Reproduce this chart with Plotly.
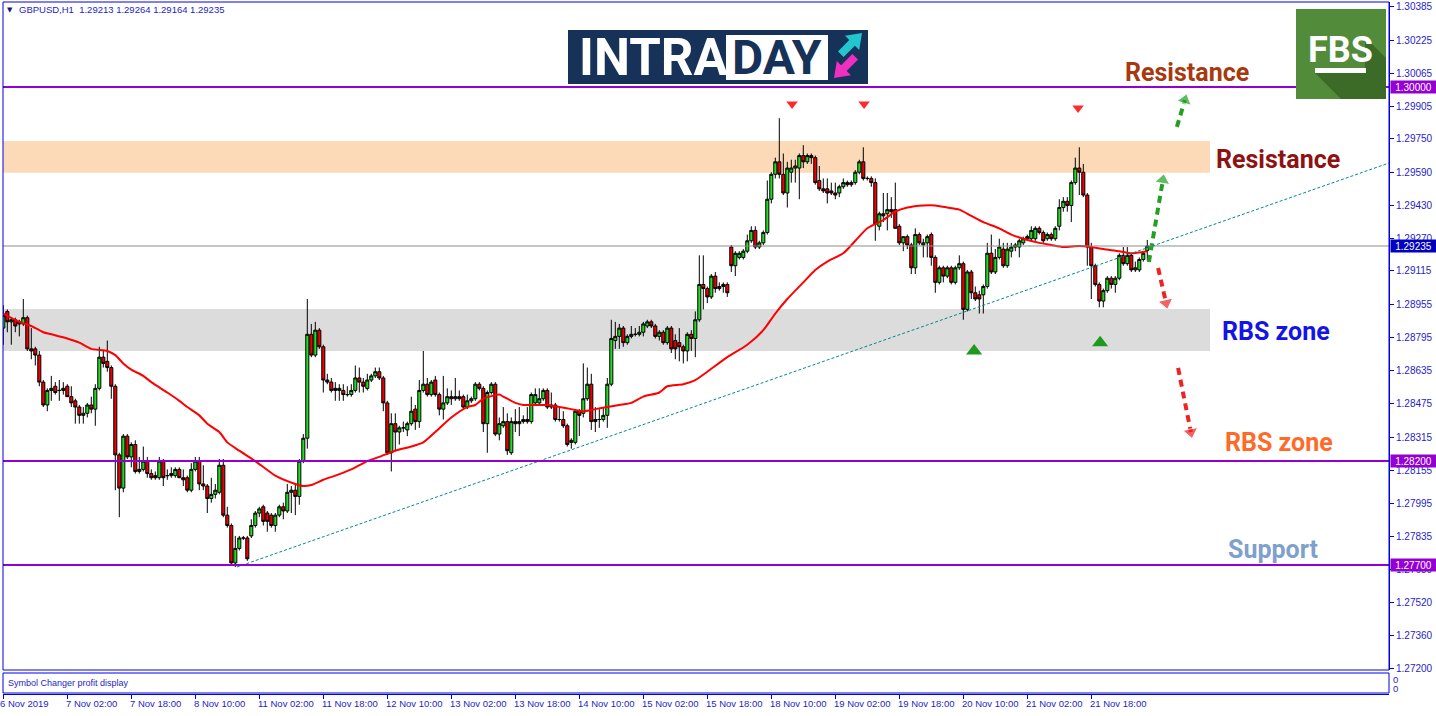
import plotly.graph_objects as go

# ------------------------------------------------------------------ data
opens = [
 1.2884,1.2892,1.2887,1.2888,1.2887,1.2886,1.2889,1.2874,1.2874,1.2871,
 1.2858,1.2847,1.2854,1.2856,1.2854,1.2854,1.2856,1.2851,1.2849,1.2846,
 1.2842,1.2843,1.2847,1.2845,1.2855,1.2870,1.2868,1.2865,1.2856,1.2823,
 1.2807,1.2832,1.2822,1.2828,1.2815,1.2816,1.2820,1.2814,1.2813,1.2812,
 1.2820,1.2813,1.2813,1.2813,1.2816,1.2812,1.2812,1.2806,1.2816,1.2820,
 1.2809,1.2808,1.2802,1.2804,1.2805,1.2818,1.2794,1.2789,1.2771,1.2778,
 1.2783,1.2783,1.2784,1.2789,1.2795,1.2798,1.2795,1.2794,1.2789,1.2794,
 1.2798,1.2796,1.2805,1.2806,1.2803,1.2820,1.2831,1.2881,1.2871,1.2883,
 1.2875,1.2859,1.2858,1.2855,1.2854,1.2854,1.2852,1.2852,1.2854,1.2860,
 1.2858,1.2855,1.2859,1.2861,1.2863,1.2860,1.2848,1.2824,1.2838,1.2834,
 1.2836,1.2835,1.2838,1.2845,1.2839,1.2854,1.2857,1.2852,1.2859,1.2852,
 1.2845,1.2848,1.2851,1.2850,1.2851,1.2851,1.2846,1.2849,1.2850,1.2857,
 1.2855,1.2838,1.2853,1.2857,1.2833,1.2837,1.2839,1.2824,1.2839,1.2838,
 1.2839,1.2840,1.2839,1.2848,1.2848,1.2850,1.2854,1.2847,1.2847,1.2840,
 1.2840,1.2837,1.2829,1.2829,1.2844,1.2843,1.2850,1.2857,1.2840,1.2840,
 1.2840,1.2842,1.2857,1.2878,1.2880,1.2884,1.2877,1.2880,1.2881,1.2881,
 1.2882,1.2885,1.2887,1.2885,1.2880,1.2882,1.2877,1.2884,1.2878,1.2877,
 1.2875,1.2873,1.2881,1.2879,1.2888,1.2905,1.2903,1.2899,1.2909,1.2904,
 1.2904,1.2905,1.2923,1.2914,1.2918,1.2918,1.2921,1.2926,1.2931,1.2923,
 1.2925,1.2930,1.2946,1.2958,1.2964,1.2958,1.2949,1.2959,1.2961,1.2961,
 1.2967,1.2964,1.2967,1.2966,1.2955,1.2951,1.2951,1.2950,1.2949,1.2949,
 1.2952,1.2954,1.2953,1.2954,1.2959,1.2964,1.2956,1.2956,1.2954,1.2933,
 1.2939,1.2939,1.2941,1.2941,1.2933,1.2925,1.2928,1.2924,1.2913,1.2929,
 1.2924,1.2925,1.2929,1.2918,1.2906,1.2913,1.2909,1.2913,1.2906,1.2913,
 1.2915,1.2893,1.2911,1.2901,1.2900,1.2900,1.2904,1.2920,1.2911,1.2918,
 1.2922,1.2914,1.2921,1.2923,1.2923,1.2925,1.2927,1.2927,1.2927,1.2932,
 1.2930,1.2927,1.2929,1.2927,1.2933,1.2942,1.2945,1.2943,1.2954,1.2961,
 1.2959,1.2948,1.2923,1.2914,1.2905,1.2897,1.2902,1.2908,1.2905,1.2908,
 1.2919,1.2915,1.2919,1.2912,1.2912,1.2917,1.29213]
highs = [
 1.2895,1.2893,1.2889,1.2889,1.2888,1.2898,1.2890,1.2884,1.2875,1.2873,
 1.2859,1.2855,1.2861,1.2858,1.2859,1.2858,1.2857,1.2856,1.2850,1.2847,
 1.2846,1.2848,1.2851,1.2857,1.2875,1.2873,1.2878,1.2866,1.2857,1.2824,
 1.2833,1.2833,1.2829,1.2830,1.2822,1.2827,1.2822,1.2816,1.2815,1.2822,
 1.2821,1.2816,1.2817,1.2817,1.2817,1.2816,1.2813,1.2819,1.2822,1.2822,
 1.2818,1.2809,1.2812,1.2809,1.2821,1.2821,1.2798,1.2790,1.2784,1.2784,
 1.2784,1.2784,1.2792,1.2796,1.2798,1.2799,1.2796,1.2795,1.2795,1.2799,
 1.2800,1.2809,1.2808,1.2809,1.2821,1.2833,1.2898,1.2886,1.2887,1.2884,
 1.2876,1.2862,1.2860,1.2858,1.2857,1.2857,1.2856,1.2857,1.2866,1.2865,
 1.2860,1.2862,1.2862,1.2865,1.2865,1.2861,1.2849,1.2843,1.2843,1.2837,
 1.2839,1.2839,1.2851,1.2847,1.2859,1.2873,1.2860,1.2859,1.2861,1.2853,
 1.2861,1.2855,1.2854,1.2860,1.2854,1.2852,1.2852,1.2851,1.2858,1.2858,
 1.2856,1.2854,1.2858,1.2858,1.2841,1.2846,1.2843,1.2841,1.2845,1.2846,
 1.2842,1.2846,1.2853,1.2855,1.2855,1.2855,1.2855,1.2853,1.2848,1.2846,
 1.2844,1.2838,1.2831,1.2845,1.2845,1.2867,1.2865,1.2862,1.2846,1.2845,
 1.2846,1.2860,1.2888,1.2887,1.2886,1.2885,1.2881,1.2885,1.2884,1.2885,
 1.2887,1.2888,1.2888,1.2886,1.2883,1.2883,1.2885,1.2885,1.2881,1.2884,
 1.2876,1.2882,1.2883,1.2892,1.2919,1.2919,1.2904,1.2910,1.2911,1.2906,
 1.2906,1.2906,1.2924,1.2921,1.2921,1.2922,1.2929,1.2933,1.2933,1.2926,
 1.2931,1.2955,1.2959,1.2966,1.2985,1.2968,1.2964,1.2965,1.2965,1.2968,
 1.2972,1.2968,1.2968,1.2967,1.2962,1.2956,1.2956,1.2954,1.2954,1.2953,
 1.2956,1.2955,1.2955,1.2960,1.2965,1.2971,1.2957,1.2957,1.2956,1.2940,
 1.2949,1.2949,1.2947,1.2954,1.2934,1.2928,1.2929,1.2925,1.2932,1.2930,
 1.2927,1.2929,1.2930,1.2919,1.2914,1.2914,1.2914,1.2914,1.2914,1.2919,
 1.2916,1.2912,1.2912,1.2904,1.2902,1.2905,1.2925,1.2929,1.2922,1.2927,
 1.2925,1.2925,1.2925,1.2925,1.2927,1.2928,1.2929,1.2933,1.2933,1.2933,
 1.2931,1.2930,1.2930,1.2933,1.2946,1.2947,1.2947,1.2955,1.2966,1.2971,
 1.2963,1.2949,1.2925,1.2915,1.2906,1.2903,1.2909,1.2909,1.2909,1.2920,
 1.2923,1.2923,1.2920,1.2916,1.2918,1.2921,1.29264]
lows = [
 1.2876,1.2882,1.2876,1.2882,1.2880,1.2885,1.2873,1.2869,1.2866,1.2856,
 1.2846,1.2844,1.2849,1.2852,1.2849,1.2852,1.2851,1.2846,1.2838,1.2838,
 1.2838,1.2841,1.2843,1.2837,1.2854,1.2865,1.2863,1.2850,1.2806,1.2793,
 1.2805,1.2821,1.2817,1.2814,1.2814,1.2815,1.2812,1.2811,1.2811,1.2811,
 1.2808,1.2811,1.2812,1.2812,1.2812,1.2808,1.2805,1.2805,1.2815,1.2806,
 1.2806,1.2795,1.2800,1.2802,1.2804,1.2793,1.2788,1.2770,1.2769,1.2777,
 1.2782,1.2772,1.2783,1.2788,1.2793,1.2789,1.2786,1.2788,1.2786,1.2793,
 1.2792,1.2795,1.2795,1.2794,1.2799,1.2819,1.2826,1.2870,1.2870,1.2874,
 1.2853,1.2857,1.2853,1.2849,1.2849,1.2849,1.2851,1.2851,1.2853,1.2853,
 1.2853,1.2854,1.2858,1.2860,1.2859,1.2844,1.2823,1.2815,1.2825,1.2828,
 1.2834,1.2832,1.2837,1.2835,1.2836,1.2853,1.2851,1.2851,1.2851,1.2842,
 1.2840,1.2847,1.2847,1.2849,1.2849,1.2845,1.2845,1.2848,1.2849,1.2854,
 1.2834,1.2824,1.2852,1.2832,1.2830,1.2836,1.2823,1.2823,1.2834,1.2832,
 1.2838,1.2838,1.2838,1.2847,1.2847,1.2849,1.2845,1.2845,1.2839,1.2839,
 1.2836,1.2827,1.2826,1.2828,1.2832,1.2841,1.2849,1.2835,1.2834,1.2836,
 1.2839,1.2836,1.2856,1.2874,1.2874,1.2875,1.2876,1.2879,1.2880,1.2880,
 1.2880,1.2884,1.2884,1.2879,1.2878,1.2876,1.2876,1.2872,1.2869,1.2868,
 1.2867,1.2868,1.2873,1.2870,1.2887,1.2893,1.2896,1.2898,1.2901,1.2902,
 1.2901,1.2899,1.2911,1.2909,1.2917,1.2917,1.2920,1.2925,1.2922,1.2922,
 1.2924,1.2929,1.2944,1.2956,1.2956,1.2948,1.2942,1.2954,1.2954,1.2946,
 1.2961,1.2963,1.2963,1.2953,1.2950,1.2949,1.2944,1.2948,1.2946,1.2947,
 1.2951,1.2952,1.2952,1.2953,1.2958,1.2955,1.2955,1.2952,1.2926,1.2931,
 1.2935,1.2931,1.2937,1.2932,1.2924,1.2921,1.2922,1.2910,1.2910,1.2924,
 1.2918,1.2918,1.2914,1.2901,1.2905,1.2906,1.2908,1.2905,1.2905,1.2912,
 1.2888,1.2892,1.2898,1.2897,1.2891,1.2891,1.2903,1.2910,1.2910,1.2917,
 1.2913,1.2913,1.2918,1.2921,1.2918,1.2924,1.2926,1.2926,1.2926,1.2929,
 1.2925,1.2926,1.2926,1.2926,1.2931,1.2940,1.2940,1.2935,1.2953,1.2948,
 1.2947,1.2914,1.2898,1.2904,1.2894,1.2894,1.2901,1.2903,1.2901,1.2907,
 1.2914,1.2914,1.2911,1.2911,1.2911,1.2916,1.29164]
closes = [
 1.2890,1.2887,1.2888,1.2885,1.2886,1.2889,1.2874,1.2873,1.2871,1.2858,
 1.2847,1.2854,1.2855,1.2853,1.2854,1.2855,1.2851,1.2848,1.2846,1.2842,
 1.2843,1.2847,1.2845,1.2855,1.2870,1.2867,1.2865,1.2856,1.2823,1.2807,
 1.2832,1.2822,1.2828,1.2815,1.2816,1.2820,1.2814,1.2812,1.2812,1.2820,
 1.2812,1.2813,1.2814,1.2816,1.2812,1.2811,1.2806,1.2816,1.2820,1.2809,
 1.2808,1.2802,1.2804,1.2806,1.2818,1.2794,1.2789,1.2771,1.2778,1.2783,
 1.2783,1.2773,1.2789,1.2795,1.2797,1.2791,1.2791,1.2789,1.2794,1.2798,
 1.2796,1.2805,1.2806,1.2803,1.2820,1.2831,1.2881,1.2871,1.2883,1.2875,
 1.2859,1.2858,1.2854,1.2854,1.2855,1.2852,1.2852,1.2854,1.2860,1.2858,
 1.2856,1.2859,1.2861,1.2863,1.2860,1.2848,1.2824,1.2838,1.2834,1.2836,
 1.2836,1.2838,1.2844,1.2839,1.2854,1.2857,1.2852,1.2858,1.2852,1.2845,
 1.2848,1.2851,1.2850,1.2851,1.2850,1.2846,1.2849,1.2850,1.2857,1.2855,
 1.2838,1.2853,1.2857,1.2833,1.2838,1.2839,1.2825,1.2839,1.2838,1.2839,
 1.2840,1.2839,1.2852,1.2852,1.2850,1.2854,1.2846,1.2846,1.2840,1.2840,
 1.2837,1.2828,1.2830,1.2844,1.2842,1.2850,1.2857,1.2839,1.2839,1.2840,
 1.2842,1.2857,1.2879,1.2880,1.2884,1.2877,1.2880,1.2881,1.2881,1.2882,
 1.2886,1.2887,1.2885,1.2880,1.2882,1.2877,1.2884,1.2874,1.2874,1.2875,
 1.2873,1.2881,1.2879,1.2888,1.2905,1.2903,1.2899,1.2909,1.2903,1.2903,
 1.2905,1.2901,1.2914,1.2920,1.2920,1.2921,1.2926,1.2931,1.2923,1.2925,
 1.2930,1.2946,1.2958,1.2964,1.2958,1.2949,1.2961,1.2961,1.2962,1.2967,
 1.2964,1.2967,1.2966,1.2954,1.2951,1.2950,1.2949,1.2949,1.2948,1.2952,
 1.2954,1.2953,1.2954,1.2959,1.2964,1.2956,1.2956,1.2954,1.2934,1.2939,
 1.2938,1.2941,1.2940,1.2932,1.2925,1.2928,1.2924,1.2913,1.2929,1.2925,
 1.2925,1.2928,1.2918,1.2906,1.2913,1.2909,1.2913,1.2906,1.2913,1.2915,
 1.2893,1.2911,1.2901,1.2898,1.2898,1.2904,1.2920,1.2911,1.2918,1.2923,
 1.2914,1.2922,1.2923,1.2924,1.2926,1.2927,1.2928,1.2931,1.2932,1.2930,
 1.2926,1.2929,1.2927,1.2932,1.2942,1.2945,1.2943,1.2954,1.2961,1.2959,
 1.2948,1.2923,1.2914,1.2905,1.2897,1.2902,1.2908,1.2905,1.2908,1.2919,
 1.2915,1.2919,1.2912,1.2913,1.2917,1.2920,1.29235]
bars = list(range(len(closes)))

# moving average (bar number, value)
ma_bars = [0,4,7,10,12,16,19,22,26,28,30,32,35,37,41,44,46,49,51,54,56,59,63,68,73,75,77,80,83,87,
           91,94,98,102,105,108,112,116,118,120,124,125,128,130,136,139,142,145,148,151,154,157,160,
           164,166,170,173,176,181,186,190,193,196,200,203,206,210,213,216,220,223,226,230,233,236,
           239,242,245,249,252,255,259,262,265,269,272,275,279,282,286]
ma_values = [1.2891,1.2887,1.2885,1.2882,1.2881,1.2879,1.2877,1.2874,1.2873,1.2871,1.2867,1.2864,
             1.2861,1.2858,1.2853,1.2849,1.2846,1.2842,1.2838,1.2834,1.2829,1.2825,1.2820,1.2813,
             1.2809,1.2808,1.28085,1.2811,1.2813,1.2816,1.2820,1.2822,1.2825,1.2827,1.2829,1.2834,
             1.2841,1.2846,1.2847,1.2850,1.2852,1.2851,1.2848,1.2847,1.2847,1.2846,1.2845,1.2844,
             1.2845,1.2846,1.2847,1.2848,1.2851,1.2853,1.2856,1.2857,1.2859,1.2863,1.2870,1.2876,
             1.2883,1.2891,1.2898,1.2906,1.2912,1.2916,1.2920,1.2926,1.2932,1.2936,1.2940,1.2942,
             1.2943,1.2943,1.2942,1.2941,1.2938,1.2935,1.2932,1.2929,1.2927,1.2925,1.2924,1.2923,
             1.29235,1.2923,1.2922,1.2921,1.2920,1.2921]

tick_bars = [16,32,48,64,80,96,112,128,144,160,176,192,208,224,240,256,272]
tick_labels = ["7 Nov 02:00","7 Nov 18:00","8 Nov 10:00","11 Nov 02:00","11 Nov 18:00",
               "12 Nov 10:00","13 Nov 02:00","13 Nov 18:00","14 Nov 10:00","15 Nov 02:00",
               "15 Nov 18:00","18 Nov 10:00","19 Nov 02:00","19 Nov 18:00","20 Nov 10:00",
               "21 Nov 02:00","21 Nov 18:00"]
first_label = "6 Nov 2019"
price_ticks = [1.30385,1.30225,1.30065,1.29905,1.29750,1.29590,1.29430,1.29270,1.29115,1.28955,
               1.28795,1.28635,1.28475,1.28315,1.28155,1.27995,1.27835,1.27680,1.27520,1.27360,1.27200]
level_lines = [1.30000, 1.28200, 1.27700]
bid_price = 1.29235
resistance_zone = [1.29587, 1.29740]
rbs_zone = [1.28730, 1.28932]
trend_bars = [58.4, 346.4]
trend_prices = [1.27690, 1.29634]
sell_bars, sell_prices = [197.2, 215.2, 268.7], [1.29918, 1.29918, 1.29899]
buy_bars, buy_prices = [242.7, 274.2], [1.28730, 1.28769]
proj_up = [([286.4, 289.9], [1.29158, 1.29552]), ([293.4, 295.4], [1.29808, 1.29937])]
proj_down = [([288.7, 290.7], [1.29129, 1.28961]), ([293.7, 296.9], [1.28648, 1.28339])]
header = "GBPUSD,H1  1.29213 1.29264 1.29164 1.29235"

# ------------------------------------------------------------------ geometry helpers
W, H = 1436, 716
PL, PR, PT, PB = 3, 1389, 2, 694
def px(x):
    return (x - PL) / (PR - PL)
def py(y):
    return (PB - y) / (PB - PT)

BLUE = "#0000E6"
TXT = "#1E1EC8"
SMALL = dict(family="Liberation Sans, Arial, sans-serif", size=9.5, color=TXT)
AXF = dict(family="Liberation Sans, Arial, sans-serif", size=10, color=TXT)

fig = go.Figure()

fig.add_trace(go.Candlestick(
    x=bars, open=opens, high=highs, low=lows, close=closes,
    increasing=dict(fillcolor="#22DD22", line=dict(color="black", width=1)),
    decreasing=dict(fillcolor="#EE0000", line=dict(color="black", width=1)),
    whiskerwidth=0, hoverinfo="skip", showlegend=False))

fig.add_trace(go.Scatter(x=ma_bars, y=ma_values, mode="lines",
                         line=dict(color="#FF0000", width=2, shape="spline", smoothing=0.6),
                         hoverinfo="skip", showlegend=False))

fig.add_trace(go.Scatter(x=sell_bars, y=sell_prices, mode="markers",
                         marker=dict(symbol="triangle-down", size=10, color="#FF2A2A"),
                         hoverinfo="skip", showlegend=False))
fig.add_trace(go.Scatter(x=buy_bars, y=buy_prices, mode="markers",
                         marker=dict(symbol="triangle-up", size=14, color="#1E9A1E"),
                         hoverinfo="skip", showlegend=False))
for xs, ys in proj_up:
    fig.add_trace(go.Scatter(x=xs, y=ys, mode="lines+markers",
                             line=dict(color="#22A022", width=4, dash="7px,5px"),
                             marker=dict(symbol=["circle", "triangle-up"], size=[0, 13], color="#22A022",
                                         angleref="previous"),
                             hoverinfo="skip", showlegend=False))
for xs, ys in proj_down:
    fig.add_trace(go.Scatter(x=xs, y=ys, mode="lines+markers",
                             line=dict(color="#EE2222", width=4, dash="7px,5px"),
                             marker=dict(symbol=["circle", "triangle-up"], size=[0, 13], color="#EE2222",
                                         angleref="previous"),
                             hoverinfo="skip", showlegend=False))

shapes = []
# zones (behind candles)
shapes.append(dict(type="rect", xref="paper", yref="y", x0=0, x1=px(1210),
                   y0=resistance_zone[0], y1=resistance_zone[1],
                   fillcolor="#FCDAB8", line=dict(width=0), layer="below"))
shapes.append(dict(type="rect", xref="paper", yref="y", x0=0, x1=px(1210),
                   y0=rbs_zone[0], y1=rbs_zone[1],
                   fillcolor="#DCDCDC", line=dict(width=0), layer="below"))
# bid line
shapes.append(dict(type="line", xref="paper", yref="y", x0=0, x1=1, y0=bid_price, y1=bid_price,
                   line=dict(color="#8C8C8C", width=1), layer="above"))
# trend line
shapes.append(dict(type="line", xref="x", yref="y", x0=trend_bars[0], x1=trend_bars[1],
                   y0=trend_prices[0], y1=trend_prices[1],
                   line=dict(color="#008B8B", width=1, dash="3px,2px"), layer="above"))
# horizontal levels
for lv in level_lines:
    shapes.append(dict(type="line", xref="paper", yref="y", x0=0, x1=1, y0=lv, y1=lv,
                       line=dict(color="#9400D3", width=2), layer="above"))
# frames
shapes.append(dict(type="rect", xref="paper", yref="paper", x0=0, x1=1, y0=py(670), y1=py(2),
                   line=dict(color=BLUE, width=1), layer="above"))
shapes.append(dict(type="rect", xref="paper", yref="paper", x0=0, x1=1, y0=py(693), y1=py(673),
                   line=dict(color=BLUE, width=1), layer="above"))

# INTRADAY logo
shapes.append(dict(type="rect", xref="paper", yref="paper", x0=px(568), x1=px(868), y0=py(84), y1=py(30),
                   fillcolor="#173259", line=dict(width=0), layer="above"))
shapes.append(dict(type="rect", xref="paper", yref="paper", x0=px(726), x1=px(828), y0=py(80), y1=py(35),
                   fillcolor="white", line=dict(width=0), layer="above"))
def poly(points):
    return "M " + " L ".join(f"{px(a):.5f},{py(b):.5f}" for a, b in points) + " Z"
shapes.append(dict(type="path", xref="paper", yref="paper", layer="above",
                   path=poly([(843.6, 57.0), (854.9, 45.7), (859.2, 50.0), (862, 33), (845, 35.8),
                              (849.3, 40.1), (838.0, 51.4)]),
                   fillcolor="#22C6CF", line=dict(width=0)))
shapes.append(dict(type="path", xref="paper", yref="paper", layer="above",
                   path=poly([(858.0, 59.6), (846.7, 70.9), (851.0, 75.2), (834, 78), (836.8, 61.0),
                              (841.1, 65.3), (852.4, 54.0)]),
                   fillcolor="#EE2FC0", line=dict(width=0)))
# FBS logo
shapes.append(dict(type="rect", xref="paper", yref="paper", x0=px(1296), x1=px(1386), y0=py(99), y1=py(9),
                   fillcolor="#528C3A", line=dict(width=0), layer="above"))
shapes.append(dict(type="path", xref="paper", yref="paper", layer="above",
                   path=poly([(1365, 37), (1386, 58), (1386, 99), (1341, 99), (1315, 73), (1365, 73)]),
                   fillcolor="#3B6B27", line=dict(width=0)))
shapes.append(dict(type="rect", xref="paper", yref="paper", x0=px(1315), x1=px(1366), y0=py(73), y1=py(68),
                   fillcolor="white", line=dict(width=0), layer="above"))

ann = []
def text_at(x, y, text, font, xanchor="center", yanchor="middle"):
    ann.append(dict(xref="paper", yref="paper", x=px(x), y=py(y), text=text, showarrow=False,
                    font=font, xanchor=xanchor, yanchor=yanchor))

text_at(653, 58, "INTRA", dict(family="Roboto, Arial", size=51, color="white", weight="bold"))
text_at(777, 58, "DAY", dict(family="Roboto, Arial", size=48, color="#173259", weight="bold"))
text_at(1340, 50, "FBS", dict(family="Liberation Sans Narrow, Roboto, Arial", size=36, color="white",
                              weight="bold"))

big = dict(family="Roboto, Arial", size=25, weight="bold")
text_at(1187, 72, "Resistance", dict(big, color="#A8380E"))
text_at(1278, 160, "Resistance", dict(big, color="#8E1212"))
text_at(1276, 331, "RBS zone", dict(big, color="#1414E6"))
text_at(1279, 442, "RBS zone", dict(big, color="#FF6A28"))
text_at(1273, 549, "Support", dict(big, color="#7F9FCC"))

# header
text_at(5, 10, "▼", dict(family="DejaVu Sans", size=7, color="#141478"), xanchor="left")
text_at(17, 10, header, SMALL, xanchor="left")
text_at(6, 683, "Symbol Changer profit display", dict(SMALL, size=9), xanchor="left")
text_at(1391, 679, "0", SMALL, xanchor="left")
text_at(1391, 688, "0", SMALL, xanchor="left")

# time labels
ann.append(dict(xref="x", yref="paper", x=bars[0], y=0, text=first_label, showarrow=False,
                font=SMALL, xanchor="left", yanchor="top", xshift=-5, yshift=-2))
for b, lab in zip(tick_bars, tick_labels):
    ann.append(dict(xref="x", yref="paper", x=b, y=0, text=lab, showarrow=False,
                    font=SMALL, xanchor="left", yanchor="top", xshift=-3, yshift=-2))

# price boxes on the axis (they cover part of the neighbouring tick label, as in the original)
for lv in level_lines:
    ann.append(dict(xref="paper", yref="y", x=1, y=lv, text=f"{lv:.5f}", showarrow=False,
                    font=dict(AXF, color="white"), bgcolor="#9400D3", xanchor="left",
                    xshift=1, width=45, height=12, align="center", borderpad=0))
ann.append(dict(xref="paper", yref="y", x=1, y=bid_price, text=f"{bid_price:.5f}", showarrow=False,
                font=dict(AXF, color="white"), bgcolor="#0000C0", xanchor="left",
                xshift=1, width=45, height=12, align="center", borderpad=0))

fig.update_layout(
    width=W, height=H, margin=dict(l=PL, r=W - PR, t=PT, b=H - PB),
    paper_bgcolor="white", plot_bgcolor="white",
    shapes=shapes, annotations=ann, showlegend=False,
    boxgap=0.1, boxgroupgap=0.15,
    xaxis=dict(range=[-0.075, 346.425], anchor="free", position=0, showgrid=False, zeroline=False,
               rangeslider=dict(visible=False), showticklabels=False, ticks="outside",
               tickvals=[bars[0]] + tick_bars, ticklen=4, tickcolor=BLUE,
               showline=True, linecolor=BLUE, linewidth=1, fixedrange=True),
    yaxis=dict(domain=[py(670), 1], range=[1.271948, 1.304090], side="right", showgrid=False,
               zeroline=False, ticks="outside", ticklen=4, tickcolor=BLUE, tickvals=price_ticks,
               ticktext=[f"{v:.5f}" for v in price_ticks], tickfont=AXF,
               showline=True, linecolor=BLUE, linewidth=1, fixedrange=True),
)

fig.write_html("out.html", config={"displayModeBar": False},
               post_script="document.body.style.margin='0';document.body.style.overflow='hidden';")
